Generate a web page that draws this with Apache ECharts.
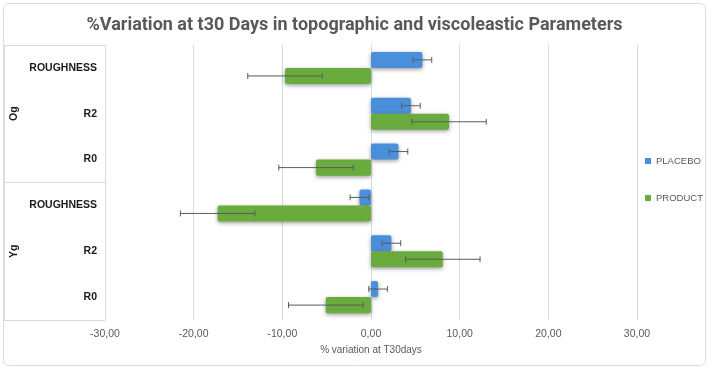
<!DOCTYPE html>
<html>
<head>
<meta charset="utf-8">
<script src="https://cdn.jsdelivr.net/npm/echarts@6/dist/echarts.min.js"></script>
<style>
  html, body { margin: 0; padding: 0; background: #fff; }
  #chart { width: 709px; height: 370px; }
</style>
</head>
<body>
<div id="chart"></div>
<script>
// groups and parameters, top to bottom as in the picture
var groups = ['Og', 'Yg'];
var params = ['ROUGHNESS', 'R2', 'R0'];
var seriesNames = ['PLACEBO', 'PRODUCT'];

// % variation at T30 (same order: Og ROUGHNESS, R2, R0, Yg ROUGHNESS, R2, R0)
var placeboVals = [5.8, 4.5, 3.1, -1.3, 2.3, 0.8];
var productVals = [-9.7, 8.8, -6.2, -17.3, 8.1, -5.1];
var placeboErr = [1.05, 1.05, 1.05, 1.05, 1.05, 1.05];
var productErr = [4.2, 4.2, 4.2, 4.2, 4.2, 4.2];

var catKeys = [];
groups.forEach(function (g) {
    params.forEach(function (p) { catKeys.push(g + '|' + p); });
});

var myChart = echarts.init(document.getElementById('chart'));

function errData(vals, errs) {
    return vals.map(function (v, i) { return [v, i, errs[i]]; });
}

// error bar drawn at the centre of its own bar (side -1 = upper bar, 1 = lower bar)
function errRender(side) {
    return function (params, api) {
        var v = api.value(0), c = api.value(1), e = api.value(2);
        var band = api.size([0, 1])[1];
        var barH = band * 0.7 / 2;
        var lo = api.coord([v - e, c]);
        var hi = api.coord([v + e, c]);
        var y = lo[1] + side * barH / 2;
        var st = { stroke: '#5a5a5a', lineWidth: 1 };
        return {
            type: 'group',
            children: [
                { type: 'line', shape: { x1: lo[0], y1: y, x2: hi[0], y2: y }, style: st },
                { type: 'line', shape: { x1: lo[0], y1: y - 3, x2: lo[0], y2: y + 3 }, style: st },
                { type: 'line', shape: { x1: hi[0], y1: y - 3, x2: hi[0], y2: y + 3 }, style: st }
            ]
        };
    };
}

var barStyle = function (color) {
    return {
        color: color,
        borderRadius: 2,
        shadowBlur: 4,
        shadowColor: 'rgba(0,0,0,0.4)',
        shadowOffsetY: 1.5
    };
};

var option = {
    animation: false,
    textStyle: { fontFamily: 'Liberation Sans' },
    title: {
        text: '%Variation at t30 Days in topographic and viscoleastic Parameters',
        left: 'center',
        top: 11,
        textStyle: { fontFamily: 'Roboto', fontSize: 18, fontWeight: 'bold', color: '#595959' }
    },
    graphic: [{
        type: 'rect',
        silent: true,
        shape: { x: 3.5, y: 3.5, width: 702, height: 362, r: 5 },
        style: { fill: 'none', stroke: '#dcdcdc', lineWidth: 1 }
    }],
    legend: {
        orient: 'vertical',
        left: 645,
        top: 156,
        padding: 0,
        itemWidth: 6,
        itemHeight: 6,
        itemGap: 27,
        icon: 'rect',
        data: seriesNames,
        textStyle: { fontSize: 9.5, color: '#595959', fontFamily: 'Liberation Sans' }
    },
    grid: { left: 105, right: 72, top: 45, bottom: 50 },
    xAxis: {
        type: 'value',
        min: -30,
        max: 30,
        interval: 10,
        name: '% variation at T30days',
        nameLocation: 'middle',
        nameGap: 24,
        nameTextStyle: { fontSize: 10, color: '#595959' },
        axisLine: { show: false },
        axisTick: { show: false },
        axisLabel: {
            fontSize: 10.5,
            color: '#595959',
            margin: 9,
            formatter: function (v) { return v.toFixed(2).replace('.', ','); }
        },
        splitLine: { lineStyle: { color: '#d9d9d9' } }
    },
    yAxis: [{
        type: 'category',
        data: catKeys,
        inverse: true,
        axisLine: { show: false, onZero: false },
        axisTick: { show: false },
        axisLabel: {
            fontSize: 10.5,
            fontWeight: 'bold',
            color: '#1a1a1a',
            margin: 8,
            formatter: function (v) { return v.split('|')[1]; }
        }
    }, {
        type: 'category',
        data: groups,
        inverse: true,
        position: 'left',
        offset: 101,
        axisLine: { show: true, onZero: false, lineStyle: { color: '#d9d9d9' } },
        axisTick: { show: true, inside: true, length: 101, lineStyle: { color: '#d9d9d9' } },
        axisLabel: {
            inside: true,
            rotate: 90,
            margin: 5,
            fontSize: 10.5,
            fontWeight: 'bold',
            color: '#1a1a1a'
        }
    }],
    series: [{
        name: seriesNames[0],
        type: 'bar',
        yAxisIndex: 0,
        data: placeboVals,
        barGap: '0%',
        barCategoryGap: '30%',
        itemStyle: barStyle('#4a8fdb')
    }, {
        name: seriesNames[1],
        type: 'bar',
        yAxisIndex: 0,
        data: productVals,
        barGap: '0%',
        barCategoryGap: '30%',
        itemStyle: barStyle('#6aab3e')
    }, {
        name: 'placeboErr',
        type: 'custom',
        yAxisIndex: 0,
        renderItem: errRender(-1),
        encode: { x: 0, y: 1 },
        data: errData(placeboVals, placeboErr),
        z: 5
    }, {
        name: 'productErr',
        type: 'custom',
        yAxisIndex: 0,
        renderItem: errRender(1),
        encode: { x: 0, y: 1 },
        data: errData(productVals, productErr),
        z: 5
    }]
};

myChart.setOption(option);
</script>
</body>
</html>
